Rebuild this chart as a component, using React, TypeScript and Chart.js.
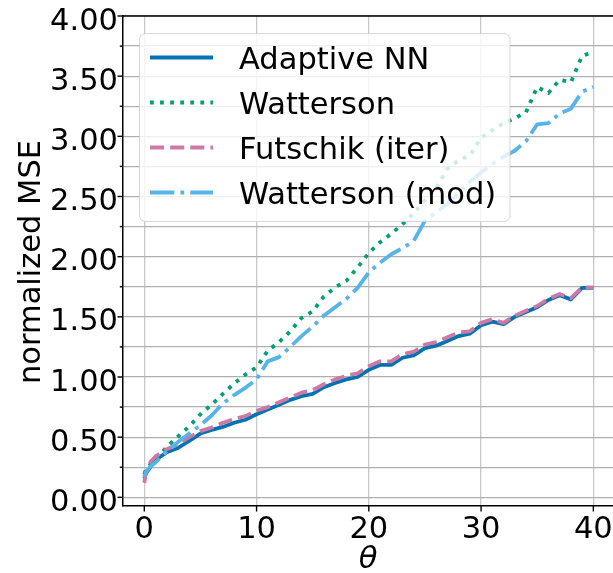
import React, { useEffect, useRef } from 'react';
import { Chart, registerables } from 'chart.js';

Chart.register(...registerables);

const thetaValues = [0, 0.1, 0.3, 0.6, 1, 2, 3, 4, 5, 6, 7, 8, 9, 10, 11, 12, 13, 14, 15, 16, 17, 18, 19, 20, 21, 22, 23, 24, 25, 26, 27, 28, 29, 30, 31, 32, 33, 34, 35, 36, 37, 38, 39, 40];

const adaptiveNN = [0.155, 0.19, 0.22, 0.26, 0.31, 0.375, 0.41, 0.47, 0.53, 0.56, 0.585, 0.62, 0.645, 0.69, 0.73, 0.77, 0.81, 0.84, 0.86, 0.915, 0.95, 0.98, 1.0, 1.06, 1.1, 1.1, 1.16, 1.18, 1.24, 1.26, 1.3, 1.34, 1.36, 1.43, 1.46, 1.44, 1.5, 1.54, 1.58, 1.64, 1.68, 1.645, 1.74, 1.74];
const watterson = [0.19, 0.22, 0.25, 0.28, 0.31, 0.42, 0.505, 0.59, 0.69, 0.77, 0.86, 0.945, 1.02, 1.08, 1.22, 1.29, 1.38, 1.49, 1.545, 1.67, 1.745, 1.8, 1.91, 2.03, 2.12, 2.19, 2.27, 2.36, 2.47, 2.57, 2.73, 2.8, 2.84, 2.99, 3.05, 3.11, 3.15, 3.2, 3.41, 3.36, 3.47, 3.45, 3.67, 3.7];
const futschikIter = [0.12, 0.18, 0.25, 0.3, 0.34, 0.4, 0.44, 0.5, 0.55, 0.58, 0.62, 0.65, 0.675, 0.72, 0.75, 0.79, 0.83, 0.87, 0.89, 0.94, 0.98, 1.01, 1.03, 1.09, 1.13, 1.13, 1.19, 1.21, 1.27, 1.29, 1.33, 1.37, 1.38, 1.45, 1.48, 1.45, 1.51, 1.55, 1.59, 1.65, 1.69, 1.655, 1.745, 1.745];
const wattersonMod = [0.17, 0.2, 0.23, 0.26, 0.29, 0.38, 0.46, 0.53, 0.6, 0.68, 0.78, 0.85, 0.91, 0.98, 1.13, 1.165, 1.25, 1.34, 1.42, 1.51, 1.58, 1.65, 1.74, 1.87, 1.95, 2.02, 2.07, 2.13, 2.3, 2.37, 2.44, 2.53, 2.62, 2.7, 2.77, 2.83, 2.88, 2.96, 3.1, 3.11, 3.19, 3.23, 3.37, 3.41];

const seriesNames = ['Adaptive NN', 'Watterson', 'Futschik (iter)', 'Watterson (mod)'];
const seriesValues = [adaptiveNN, watterson, futschikIter, wattersonMod];
const seriesColors = ['#0072B2', '#009E73', '#CC79A7', '#56B4E9'];
const LW = 3.8;
const seriesDashes = [[], [LW * 1, LW * 1.65], [LW * 3.7, LW * 1.6], [LW * 6.4, LW * 1.6, LW * 1, LW * 1.6]];

const xTitle = 'θ';
const yTitle = 'normalized MSE';

const FONT = "'DejaVu Sans', sans-serif";
const FS = 30.5;

const W = 613;
const H = 573;

const decorPlugin = {
  id: 'decor',
  afterDraw(chart: any) {
    const ctx = chart.ctx;
    const area = chart.chartArea;
    const xs = chart.scales.x;
    const ys = chart.scales.y;
    ctx.save();
    // top spine
    ctx.strokeStyle = '#000';
    ctx.lineWidth = 1.5;
    ctx.beginPath();
    ctx.moveTo(area.left, area.top);
    ctx.lineTo(area.right, area.top);
    ctx.stroke();
    // tick marks
    ctx.lineWidth = 1.4;
    ys.ticks.forEach((t: any) => {
      const y = ys.getPixelForValue(t.value);
      const major = Math.abs(t.value / 0.5 - Math.round(t.value / 0.5)) < 1e-6;
      ctx.beginPath();
      ctx.moveTo(area.left - (major ? 5.5 : 3.2), y);
      ctx.lineTo(area.left, y);
      ctx.stroke();
    });
    xs.ticks.forEach((t: any) => {
      const x = xs.getPixelForValue(t.value);
      ctx.beginPath();
      ctx.moveTo(x, area.bottom);
      ctx.lineTo(x, area.bottom + 5.5);
      ctx.stroke();
    });
    // tick labels
    ctx.fillStyle = '#000';
    ctx.font = `${FS}px ${FONT}`;
    ctx.textAlign = 'right';
    ctx.textBaseline = 'alphabetic';
    ys.ticks.forEach((t: any) => {
      const major = Math.abs(t.value / 0.5 - Math.round(t.value / 0.5)) < 1e-6;
      if (!major) return;
      const y = ys.getPixelForValue(t.value);
      ctx.fillText(t.value.toFixed(2), area.left - 5, y + 13.6);
    });
    ctx.textAlign = 'center';
    xs.ticks.forEach((t: any) => {
      const x = xs.getPixelForValue(t.value);
      ctx.fillText(String(t.value), x, area.bottom + 31.5);
    });
    // axis titles
    ctx.font = `italic ${FS}px ${FONT}`;
    ctx.fillText(xTitle, (area.left + area.right) / 2, area.bottom + 61.5);
    ctx.font = `${FS}px ${FONT}`;
    ctx.save();
    ctx.translate(40, (area.top + area.bottom) / 2 + 1);
    ctx.rotate(-Math.PI / 2);
    ctx.textAlign = 'center';
    ctx.fillText(yTitle, 0, 0);
    ctx.restore();
    // legend
    const bx = 139.5, by = 33.5, bw = 370.5, bh = 188, r = 6;
    ctx.beginPath();
    ctx.moveTo(bx + r, by);
    ctx.lineTo(bx + bw - r, by);
    ctx.arcTo(bx + bw, by, bx + bw, by + r, r);
    ctx.lineTo(bx + bw, by + bh - r);
    ctx.arcTo(bx + bw, by + bh, bx + bw - r, by + bh, r);
    ctx.lineTo(bx + r, by + bh);
    ctx.arcTo(bx, by + bh, bx, by + bh - r, r);
    ctx.lineTo(bx, by + r);
    ctx.arcTo(bx, by, bx + r, by, r);
    ctx.closePath();
    ctx.fillStyle = 'rgba(255,255,255,0.8)';
    ctx.fill();
    ctx.strokeStyle = 'rgba(204,204,204,0.8)';
    ctx.lineWidth = 1;
    ctx.stroke();
    ctx.textAlign = 'left';
    seriesNames.forEach((name, i) => {
      const ry = 57.5 + 45 * i;
      ctx.save();
      ctx.strokeStyle = seriesColors[i];
      ctx.lineWidth = LW;
      ctx.lineCap = 'butt';
      ctx.setLineDash(seriesDashes[i]);
      ctx.beginPath();
      ctx.moveTo(150, ry);
      ctx.lineTo(213, ry);
      ctx.stroke();
      ctx.restore();
      ctx.fillStyle = '#000';
      ctx.fillText(name, 239, ry + 11);
    });
    ctx.restore();
  },
};

export default function App() {
  const ref = useRef<HTMLCanvasElement | null>(null);
  useEffect(() => {
    if (!ref.current) return;
    const datasets = seriesNames.map((name, i) => ({
      label: name,
      data: thetaValues.map((t, j) => ({ x: t, y: seriesValues[i][j] })),
      borderColor: seriesColors[i],
      backgroundColor: seriesColors[i],
      borderWidth: LW,
      borderDash: seriesDashes[i],
      borderCapStyle: 'butt' as const,
      borderJoinStyle: 'round' as const,
      pointRadius: 0,
      tension: 0,
      fill: false,
      order: seriesNames.length - i,
    }));
    const chart = new Chart(ref.current, {
      type: 'line',
      data: { datasets },
      options: {
        animation: false,
        responsive: false,
        layout: { padding: { top: 16, left: 0, right: 0, bottom: 0 } },
        plugins: { legend: { display: false }, tooltip: { enabled: false } },
        scales: {
          x: {
            type: 'linear',
            min: -1.898,
            max: 41.75,
            ticks: { stepSize: 10, includeBounds: false, display: false },
            grid: { color: '#c8c8c8', lineWidth: 1.3, drawTicks: false },
            border: { color: '#000', width: 1.5 },
            afterFit: (s: any) => { s.height = 67; },
          },
          y: {
            type: 'linear',
            min: -0.072,
            max: 4.0,
            ticks: { stepSize: 0.25, includeBounds: false, display: false, autoSkip: false },
            grid: { color: '#b0b0b0', lineWidth: 1.3, drawTicks: false },
            border: { color: '#000', width: 1.5 },
            afterFit: (s: any) => { s.width = 123; },
          },
        },
      },
      plugins: [decorPlugin],
    });
    return () => chart.destroy();
  }, []);
  return (
    <div style={{ position: 'absolute', left: 0, top: 0, width: W, height: H, background: '#fff' }}>
      <canvas ref={ref} width={W} height={H} style={{ display: 'block' }} />
    </div>
  );
}
